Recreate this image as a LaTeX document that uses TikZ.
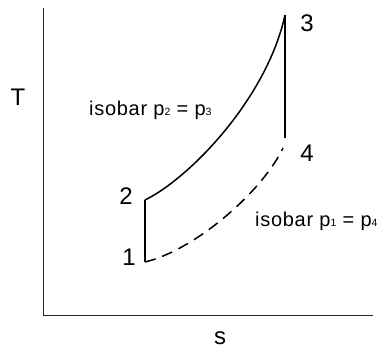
\documentclass[tikz,border=0pt]{standalone}
\usepackage{fontspec}
\setmainfont{Liberation Sans}
\newfontfamily\isofont[LetterSpace=3.5]{Liberation Sans}
\usetikzlibrary{positioning}
\tikzset{
  axisline/.style={line width=0.8pt, draw=black!85},
  cycleline/.style={line width=1.5pt},
  isobardash/.style={line width=1.5pt, dash pattern=on 11pt off 7pt},
  statelabel/.style={font=\fontsize{24}{24}\selectfont, inner sep=0pt},
  isobarlabel/.style={font=\fontsize{20}{20}\isofont, inner sep=0pt, anchor=base west}
}
\newcommand{\lowsub}[1]{{\fontsize{10.5}{10.5}\selectfont #1}}

\begin{document}
\begin{tikzpicture}[x=1pt, y=-1pt]
  \useasboundingbox (0,0) rectangle (381,350);

  % axes
  \coordinate (origin) at (43,315);
  \coordinate (ytop) at (43,8);
  \coordinate (xend) at (373,315);
  \draw[axisline] (ytop) -- (origin) -- (xend);
  \node[statelabel] (tlabel) at (18,97) {T};
  \node[statelabel] (slabel) at (220,338) {s};

  % states of the cycle
  \coordinate (p1) at (145,262);
  \coordinate (p2) at (145,200);
  \coordinate (p3) at (285,15);
  \coordinate (p4) at (285,138);
  \coordinate (p4dash) at (283,148);
  \node[statelabel] (n1) at (129,257) {1};
  \node[statelabel] (n2) at (126,196) {2};
  \node[statelabel] (n3) at (307,23) {3};
  \node[statelabel] (n4) at (307,153) {4};

  \draw[cycleline] (p1) -- (p2);
  \draw[cycleline] (p2) .. controls (190,178) and (267,98) .. (p3);
  \draw[cycleline] (p3) -- (p4);
  \draw[isobardash] (p1) .. controls (195,250) and (262,192) .. (p4dash);

  % isobar labels
  \node[isobarlabel] (isohigh) at (89,116) {isobar p\lowsub{2} = p\lowsub{3}};
  \node[isobarlabel] (isolow) at (255,227) {isobar p\lowsub{1} = p\lowsub{4}};
\end{tikzpicture}
\end{document}
